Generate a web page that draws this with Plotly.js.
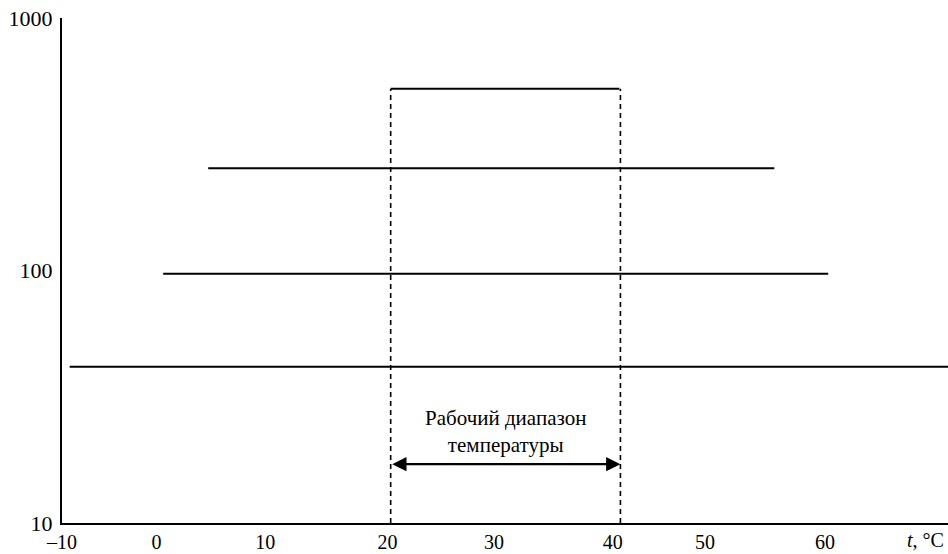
<!DOCTYPE html>
<html>
<head>
<meta charset="utf-8">
<script src="https://cdn.plot.ly/plotly-3.0.1.min.js"></script>
<style>html,body{margin:0;padding:0;background:#fff;}#chart{width:948px;height:554px;}</style>
</head>
<body>
<div id="chart"></div>
<script>
// Tick labels (x positions as drawn in the figure's scale)
const xTickVals = [-9.3, -0.7, 9.2, 20.3, 30.0, 40.8, 49.2, 60.1];
const xTickText = ["\u201310", "0", "10", "20", "30", "40", "50", "60"];
const yTickVals = [10, 100, 1000];
const yTickText = ["10", "100", "1000"];

// Horizontal levels: start, end, value
const levelStart = [20.6, 4.0, -0.1, -8.6];
const levelEnd   = [41.4, 55.5, 60.4, 71.3];
const levelValue = [525, 254, 97, 41.6];

// Working range (dashed boundaries)
const rangeLow = 20.6;
const rangeHigh = 41.5;
const rangeTop = 525;
const rangeBottom = 10;
const arrowLevel = 17.1;
const labelLevel = 23.0;
const labelText = "Рабочий диапазон<br>температуры";

const xRange = [-9.3, 71.3];

const traces = [];
for (let i = 0; i < levelValue.length; i++) {
  traces.push({
    x: [levelStart[i], levelEnd[i]],
    y: [levelValue[i], levelValue[i]],
    mode: 'lines', type: 'scatter',
    line: {color: '#000', width: 2},
    hoverinfo: 'skip', showlegend: false
  });
}
[rangeLow, rangeHigh].forEach(function (xv) {
  traces.push({
    x: [xv, xv], y: [rangeBottom, rangeTop],
    mode: 'lines', type: 'scatter',
    line: {color: '#000', width: 1.6, dash: '5px,4px'},
    hoverinfo: 'skip', showlegend: false
  });
});

const font = {family: 'Liberation Serif, serif', color: '#000'};

const layout = {
  width: 948, height: 554,
  margin: {l: 62, r: 0, t: 18, b: 31},
  paper_bgcolor: '#fff', plot_bgcolor: '#fff',
  showlegend: false,
  xaxis: {
    range: xRange, showgrid: false, zeroline: false,
    showline: true, linecolor: '#000', linewidth: 2,
    tickmode: 'array', tickvals: xTickVals, ticktext: xTickText,
    ticks: '', ticklabelstandoff: 0, tickfont: Object.assign({size: 20}, font)
  },
  yaxis: {
    type: 'log', range: [1, 3], showgrid: false, zeroline: false,
    showline: true, linecolor: '#000', linewidth: 2,
    tickmode: 'array', tickvals: yTickVals, ticktext: yTickText,
    ticks: '', ticklabelstandoff: 3, tickfont: Object.assign({size: 22}, font)
  },
  annotations: [
    {
      x: rangeHigh, y: Math.log10(arrowLevel), xref: 'x', yref: 'y',
      ax: rangeLow, ay: Math.log10(arrowLevel), axref: 'x', ayref: 'y',
      text: '', showarrow: true, arrowhead: 2, arrowside: 'end+start',
      arrowsize: 1.3, arrowwidth: 2.2, arrowcolor: '#000', standoff: 0, startstandoff: 0
    },
    {
      x: (rangeLow + rangeHigh) / 2, y: Math.log10(labelLevel), xref: 'x', yref: 'y',
      text: labelText, showarrow: false,
      font: Object.assign({size: 21}, font)
    },
    {
      x: 1, y: 0, xref: 'paper', yref: 'paper', xanchor: 'right', yanchor: 'top',
      yshift: -4, xshift: -2,
      text: '<i>t</i>, °C', showarrow: false,
      font: Object.assign({size: 20}, font)
    }
  ]
};

Plotly.newPlot('chart', traces, layout, {displayModeBar: false, staticPlot: true});
</script>
</body>
</html>
